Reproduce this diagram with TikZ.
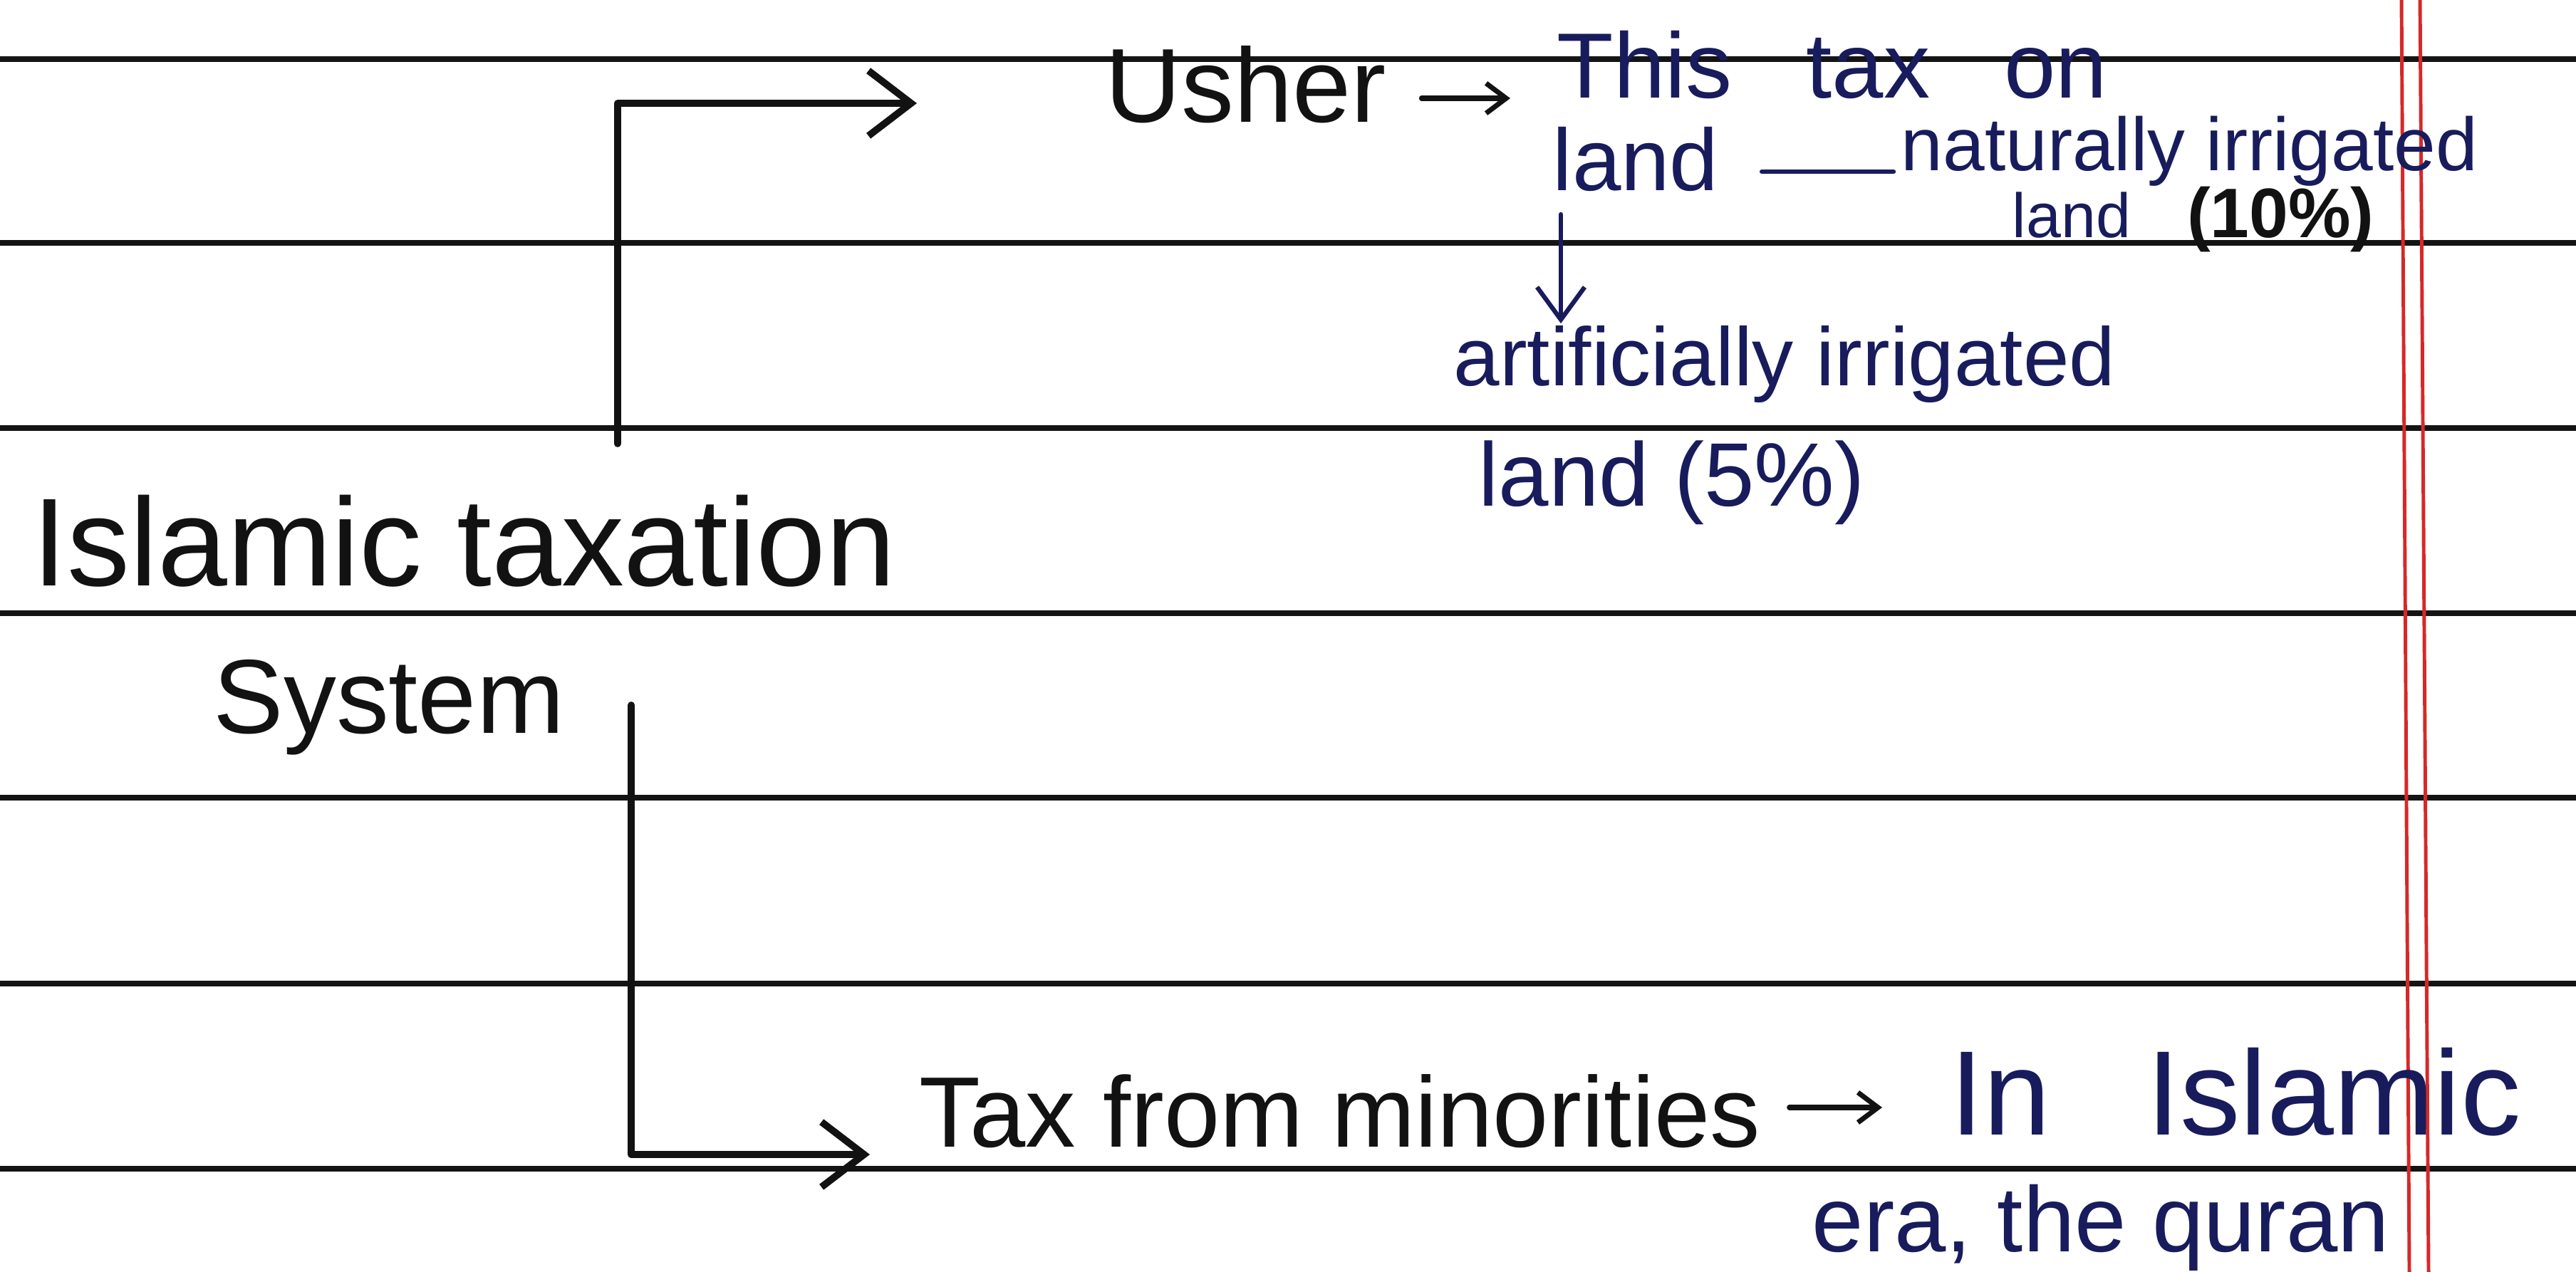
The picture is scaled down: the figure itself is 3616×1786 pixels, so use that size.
\documentclass[tikz,border=0pt]{standalone}
\usepackage{fontspec}
\setmainfont{Liberation Sans}
\usetikzlibrary{arrows.meta, positioning}
\definecolor{inkblack}{RGB}{18,18,18}
\definecolor{inkblue}{RGB}{24,28,92}
\definecolor{marginred}{RGB}{214,40,40}
\newcommand{\fs}[1]{\fontsize{#1}{#1}\selectfont}

\begin{document}
\begin{tikzpicture}[x=0.01cm, y=-0.01cm,
  rule/.style={line width=2pt, black!92},
  margin/.style={line width=1.4pt, marginred},
  pen/.style={line width=2.8pt, inkblack, line cap=round, line join=round},
  bluepen/.style={line width=1.8pt, inkblue, line cap=round},
  bigarr/.style={pen, -{Straight Barb[length=17pt,width=26pt]}},
  smallarr/.style={pen, line width=2pt, -{Straight Barb[length=8pt,width=12pt]}},
  downarr/.style={bluepen, -{Straight Barb[length=13pt,width=19pt]}},
  txt/.style={anchor=base west, inner sep=0pt, text=inkblack},
  note/.style={anchor=base west, inner sep=0pt, text=inkblue}
]
\useasboundingbox (0,0) rectangle (3616,1786);
\fill[white] (0,0) rectangle (3616,1786);

% ruled page
\foreach \y in {83,341,601,861,1120,1381,1641}
  \draw[rule] (0,\y) -- (3616,\y);
\draw[margin] (3371,0) -- (3382,1786);
\draw[margin] (3397,0) -- (3409,1786);

% main heading
\node[txt, font=\fs{50}] (title) at (45,823) {Islamic taxation};
\node[txt, font=\fs{42}] (system) at (299,1030) {System};

% upper branch: Usher
\node[txt, font=\fs{42}] (usher) at (1551,172) {Usher};
\node[note, font=\fs{37}] (this) at (2185,138) {This\hspace{0.8em}tax\hspace{0.8em}on};
\node[note, font=\fs{35}] (land1) at (2179,268) {land};
\node[note, font=\fs{30}] (natural) at (2668,240) {naturally irrigated};
\node[note, font=\fs{25}] (land10) at (2824,334) {land\hspace{0.9em}\textcolor{inkblack}{\fs{28}\bfseries(10\%)}};
\node[note, font=\fs{33}] (artif) at (2040,542) {artificially irrigated};
\node[note, font=\fs{36}] (land5) at (2075,711) {land (5\%)};

% lower branch: minorities
\node[txt, font=\fs{40}] (taxmin) at (1290,1610) {Tax from minorities};
\node[note, font=\fs{48}] (inisl) at (2737,1593) {In\hspace{0.8em}Islamic};
\node[note, font=\fs{37}] (era) at (2543,1757) {era, the quran};

% brackets
\coordinate (topfoot) at (867,623);
\coordinate (toptip) at (1287,145);
\draw[bigarr] (topfoot) |- (toptip);
\coordinate (lowtop) at (886,990);
\coordinate (lowtip) at (1221,1621);
\draw[bigarr] (lowtop) |- (lowtip);

% small connectors
\draw[smallarr] ([shift={(49,-34)}]usher.base east) -- ([shift={(-65,0)}]this.base west);
\draw[bluepen] ([shift={(60,-27)}]land1.base east) -- ([shift={(-10,1)}]natural.base west);
\draw[downarr, shorten >=0.36cm] ([shift={(12,33)}]land1.base west) -- ([shift={(12,33)}]land1.base west |- artif.north);
\draw[smallarr] ([shift={(40,-55)}]taxmin.base east) -- ([shift={(-95,-38)}]inisl.base west);
\end{tikzpicture}
\end{document}
